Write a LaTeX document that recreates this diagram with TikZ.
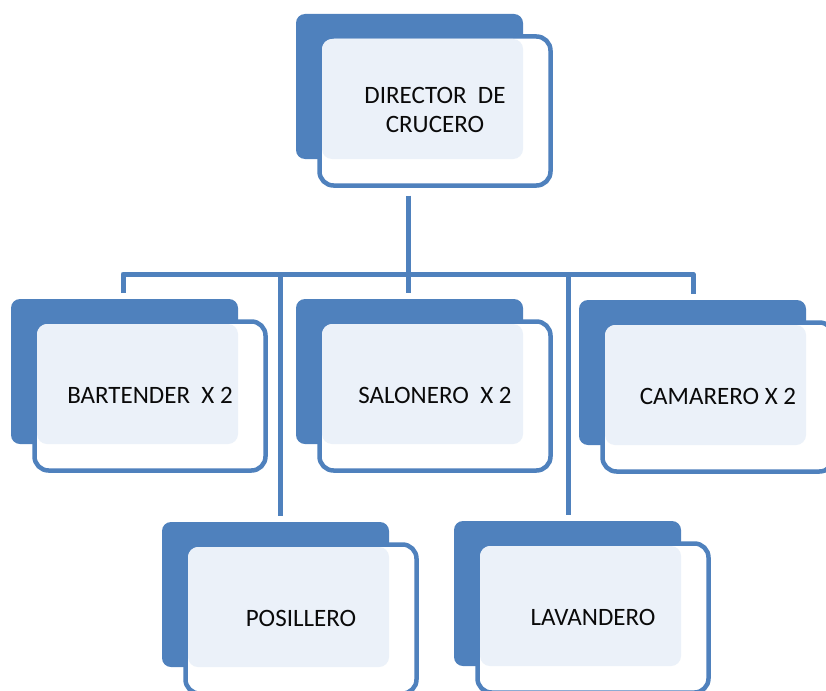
\documentclass[tikz,border=0pt]{standalone}
\usepackage{fontspec}
\setmainfont{Carlito}
\definecolor{dkblue}{RGB}{79,129,189}
\definecolor{ltblue}{RGB}{235,241,249}
\definecolor{txt}{RGB}{10,10,10}
\tikzset{
  backbox/.style={fill=dkblue, draw=none, rounded corners=9pt, minimum width=227pt, minimum height=145pt, inner sep=0pt, outer sep=0pt},
  frontbox/.style={draw=dkblue, line width=4.5pt, fill=white, rounded corners=14pt, minimum width=231pt, minimum height=149pt, inner sep=0pt, outer sep=0pt},
  overlapbox/.style={fill=ltblue, draw=none, rounded corners=10pt, minimum width=201pt, minimum height=120pt, inner sep=0pt, outer sep=0pt},
  boxtext/.style={font=\fontsize{25}{29}\selectfont, text=txt, align=center, inner sep=0pt},
  conn/.style={draw=dkblue, line width=5pt, line join=round}
}
\newcommand\orgunit[4]{%
  \node[backbox, anchor=north west] (#1B) at (#2,#3) {};
  \node[frontbox, anchor=north west] (#1) at (#2+23.5,#3+22.5) {};
  \node[overlapbox, anchor=north west] (#1O) at (#2+26,#3+25) {};
  \node[boxtext] (#1T) at ([yshift=1pt]#1.center) {#4};
}
\begin{document}
\begin{tikzpicture}[x=1pt,y=-1pt]
\useasboundingbox (0,0) rectangle (826,690);
\clip (0,0) rectangle (826,690);
\orgunit{dir}{296}{14}{DIRECTOR\ \ DE\\CRUCERO}
\orgunit{bar}{11}{299}{BARTENDER\ \ X 2}
\orgunit{sal}{296}{299}{SALONERO\ \ X 2}
\orgunit{cam}{579}{300}{CAMARERO X 2}
\orgunit{pos}{162}{522}{POSILLERO}
\orgunit{lav}{454}{521}{LAVANDERO}
% connectors
\coordinate (jL) at (123,274);
\coordinate (jR) at (693,274);
\coordinate (jD) at (408,274);
\coordinate (jP) at (280,274);
\coordinate (jV) at (568,274);
\draw[conn] ([yshift=-10pt]dir.south -| jD) -- (jD);
\draw[conn] ([yshift=6pt]barB.north -| jL) -- (jL) -- (jR) -- ([yshift=6pt]camB.north -| jR);
\draw[conn] (jD) -- ([yshift=6pt]salB.north -| jD);
\draw[conn] (jP) -- ([yshift=6pt]posB.north -| jP);
\draw[conn] (jV) -- ([yshift=6pt]lavB.north -| jV);
\end{tikzpicture}
\end{document}
